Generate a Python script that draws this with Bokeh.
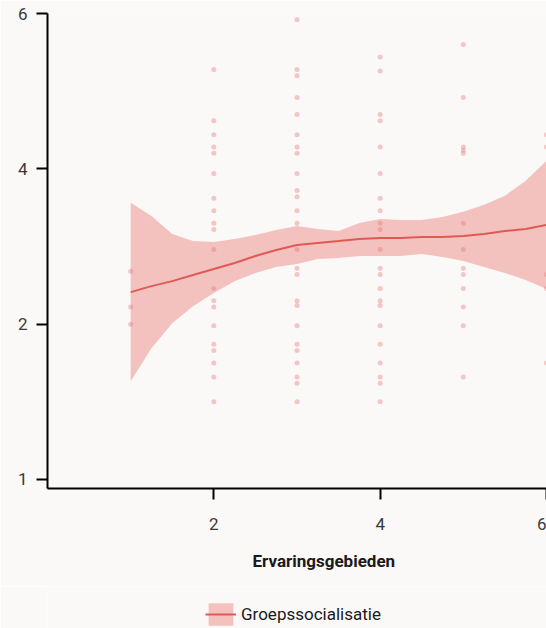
from bokeh.plotting import figure
from bokeh.layouts import column
from bokeh.models import Legend, LegendItem, Title, FixedTicker, ColumnDataSource
from bokeh.embed import file_html
from bokeh.resources import INLINE

# ---- data (y in axis position units; axis ticks 0..3 are labelled 1, 2, 4, 6) ----
y_ticks = [0, 1, 2, 3]
y_tick_labels = ["1", "2", "4", "6"]
x_ticks = [2, 4, 6]
x_label = "Ervaringsgebieden"
series_name = "Groepssocialisatie"

pts_1 = [1.34, 1.11, 1.00]
pts_2 = [2.64, 2.31, 2.22, 2.14, 2.10, 1.97, 1.81, 1.73, 1.65, 1.61, 1.48, 1.23,
         1.15, 1.11, 0.99, 0.87, 0.83, 0.75, 0.66, 0.50]
pts_3 = [2.96, 2.64, 2.60, 2.46, 2.35, 2.22, 2.14, 2.10, 1.97, 1.86, 1.82, 1.73,
         1.65, 1.48, 1.36, 1.32, 1.15, 1.12, 0.99, 0.87, 0.83, 0.75, 0.66, 0.62, 0.50]
pts_4 = [2.72, 2.63, 2.35, 2.31, 2.14, 1.97, 1.81, 1.73, 1.65, 1.61, 1.48, 1.36,
         1.32, 1.23, 1.15, 1.12, 0.99, 0.87, 0.75, 0.66, 0.62, 0.50]
pts_5 = [2.80, 2.46, 2.14, 2.12, 2.10, 1.65, 1.48, 1.36, 1.32, 1.23, 1.11, 0.99, 0.66]
pts_6 = [2.22, 2.14, 1.32, 1.23, 0.75]

trend_x = [1.0, 1.25, 1.5, 1.75, 2.0, 2.25, 2.5, 2.75, 3.0, 3.25, 3.5, 3.75,
           4.0, 4.25, 4.5, 4.75, 5.0, 5.25, 5.5, 5.75, 6.0]
trend_y = [1.206, 1.245, 1.277, 1.316, 1.355, 1.394, 1.439, 1.477, 1.510, 1.523, 1.535,
           1.548, 1.555, 1.555, 1.561, 1.561, 1.568, 1.581, 1.600, 1.613, 1.639]
band_hi = [1.781, 1.697, 1.581, 1.535, 1.529, 1.548, 1.574, 1.606, 1.632, 1.613, 1.600,
           1.652, 1.677, 1.671, 1.671, 1.690, 1.723, 1.768, 1.826, 1.923, 2.052]
band_lo = [0.632, 0.845, 1.006, 1.116, 1.200, 1.277, 1.329, 1.368, 1.387, 1.419, 1.426,
           1.439, 1.439, 1.439, 1.452, 1.432, 1.406, 1.368, 1.329, 1.284, 1.226]

# ---- build sources ----
cols = [(1, pts_1), (2, pts_2), (3, pts_3), (4, pts_4), (5, pts_5), (6, pts_6)]
px, py = [], []
for xv, ys in cols:
    px += [xv] * len(ys)
    py += ys
pts_src = ColumnDataSource(dict(x=px, y=py))
trend_data = dict(x=trend_x, y=trend_y, lo=band_lo, hi=band_hi)
trend_src = ColumnDataSource(trend_data)

BG = "#faf9f7"
FONT = "Roboto"
BAND = dict(fill_color="#e8706c", fill_alpha=0.4)
LINE = dict(line_color="#e05a55", line_width=2)

p = figure(width=546, height=586, x_range=(0, 6), y_range=(-0.058, 3.0),
           output_backend="svg", toolbar_location=None,
           min_border_left=47, min_border_right=0, min_border_top=13, min_border_bottom=0,
           background_fill_color=BG, border_fill_color=BG, outline_line_color=None)
p.grid.visible = False

p.scatter("x", "y", source=pts_src, size=5, fill_color="#e8787a", line_color=None,
          fill_alpha=0.4)
p.varea(x="x", y1="lo", y2="hi", source=trend_src, **BAND)
p.line("x", "y", source=trend_src, **LINE)

for ax in (p.xaxis[0], p.yaxis[0]):
    ax.axis_line_color = "black"
    ax.axis_line_width = 2
    ax.major_tick_line_color = "black"
    ax.major_tick_line_width = 2
    ax.major_tick_in = 0
    ax.major_tick_out = 11
    ax.minor_tick_line_color = None
    ax.major_label_text_font = FONT
    ax.major_label_text_font_size = "17px"
    ax.major_label_text_color = "#3a3a3a"

p.xaxis.ticker = FixedTicker(ticks=x_ticks)
p.xaxis.major_label_standoff = 18
p.yaxis.ticker = FixedTicker(ticks=y_ticks)
p.yaxis.major_label_overrides = {t: l for t, l in zip(y_ticks, y_tick_labels)}
p.yaxis.major_label_standoff = 9

title = Title(text=x_label, align="left", offset=205, standoff=32,
              text_font=FONT, text_font_size="17px", text_font_style="bold",
              text_color="#1a1a1a")
p.add_layout(title, "below")

# ---- legend strip: a second small figure whose legend shows the same styles ----
leg_fig = figure(width=546, height=42, x_range=(0, 6), y_range=(0, 3),
                 output_backend="svg", toolbar_location=None,
                 x_axis_location=None, y_axis_location=None, min_border=0,
                 background_fill_color=BG, border_fill_color=BG, outline_line_color=None)
leg_fig.grid.visible = False
leg_src = ColumnDataSource(trend_data)
lb = leg_fig.varea(x="x", y1="lo", y2="hi", source=leg_src, visible=False, **BAND)
ll = leg_fig.line("x", "y", source=leg_src, visible=False, **LINE)
legend = Legend(items=[LegendItem(label=series_name, renderers=[lb, ll])],
                location=(158, 0), orientation="horizontal",
                glyph_width=31, glyph_height=28, label_standoff=5,
                margin=0, padding=0, border_line_color=None, background_fill_alpha=0,
                inactive_fill_alpha=0,
                label_text_font=FONT, label_text_font_size="17px", label_text_color="#1a1a1a")
leg_fig.add_layout(legend, "center")

layout = column(p, leg_fig, spacing=0)
open("out.html", "w").write(file_html(layout, INLINE))
